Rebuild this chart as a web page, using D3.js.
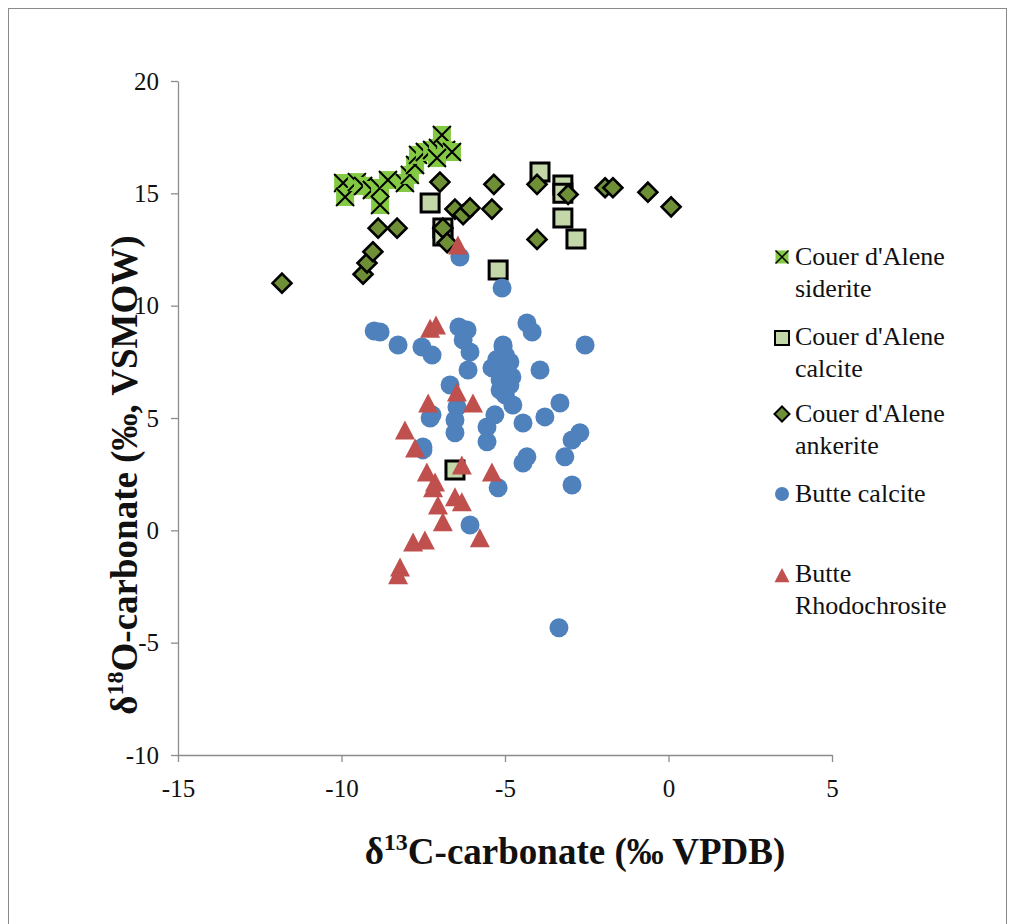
<!DOCTYPE html>
<html>
<head>
<meta charset="utf-8">
<script src="https://cdnjs.cloudflare.com/ajax/libs/d3/7.8.5/d3.min.js"></script>
<style>
  html, body { margin: 0; padding: 0; background: #fff; }
  svg { display: block; }
</style>
</head>
<body>
<script>
// δ13C vs δ18O of carbonates, Coeur d'Alene and Butte districts
const xTicks = [-15, -10, -5, 0, 5];
const yTicks = [-10, -5, 0, 5, 10, 15, 20];

// [δ13C, δ18O]
const cdaSiderite = [
  [-9.95, 15.46], [-9.89, 14.84], [-9.53, 15.5], [-9.34, 15.33], [-9.07, 15.15],
  [-8.82, 15.24], [-8.58, 15.59], [-8.82, 14.48], [-8.06, 15.46], [-7.91, 15.82],
  [-7.75, 16.26], [-7.66, 16.71], [-7.45, 16.84], [-7.23, 16.93], [-7.05, 17.02],
  [-6.93, 17.6], [-6.80, 16.93], [-6.62, 16.84], [-7.08, 16.57]
];
const cdaCalcite = [
  [-3.93, 15.95], [-3.23, 15.37], [-3.23, 15.0], [-3.23, 13.9], [-2.83, 12.97],
  [-7.29, 14.57], [-6.9, 13.46], [-6.9, 13.1], [-5.21, 11.59], [-6.53, 2.69]
];
const cdaAnkerite = [
  [-11.82, 11.0], [-9.34, 11.4], [-9.22, 11.9], [-9.04, 12.4], [-8.88, 13.45],
  [-8.30, 13.45], [-6.99, 15.5], [-6.9, 13.45], [-6.77, 12.8], [-6.53, 14.3],
  [-6.28, 14.05], [-6.07, 14.35], [-5.40, 14.3], [-5.34, 15.4], [-4.02, 15.4],
  [-4.02, 12.95], [-3.07, 14.95], [-1.94, 15.25], [-1.70, 15.25], [-0.63, 15.05],
  [0.08, 14.4]
];
const butteCalcite = [
  [-6.38, 12.17], [-5.09, 10.79], [-9.0, 8.87], [-8.27, 8.25], [-7.54, 8.16],
  [-7.23, 7.8], [-6.41, 9.05], [-6.16, 8.92], [-6.28, 8.47], [-6.07, 7.94],
  [-6.13, 7.14], [-6.68, 6.47], [-5.06, 8.25], [-7.29, 5.0], [-7.51, 3.71],
  [-8.82, 8.83], [-4.33, 9.23], [-4.17, 8.83], [-2.55, 8.25], [-5.06, 8.16],
  [-4.85, 7.49], [-5.40, 7.23], [-5.15, 6.7], [-4.79, 6.83], [-5.15, 6.25],
  [-3.93, 7.14], [-6.47, 5.49], [-7.23, 5.14], [-6.53, 4.91], [-6.53, 4.34],
  [-5.31, 5.14], [-5.55, 4.6], [-5.55, 3.94], [-4.76, 5.58], [-4.45, 4.78],
  [-3.78, 5.05], [-3.32, 5.67], [-2.71, 4.34], [-2.95, 4.02], [-3.17, 3.27],
  [-4.33, 3.27], [-4.45, 3.0], [-2.95, 2.02], [-5.21, 1.89], [-6.07, 0.24],
  [-7.51, 3.58], [-3.35, -4.34], [-4.99, 7.8], [-4.85, 6.47], [-4.99, 6.02],
  [-5.25, 7.6], [-4.95, 7.1]
];
const butteRhodochrosite = [
  [-6.44, 12.7], [-7.29, 9.0], [-7.11, 9.14], [-6.47, 6.16], [-7.35, 5.67],
  [-5.98, 5.67], [-8.06, 4.47], [-7.75, 3.67], [-7.39, 2.6], [-7.14, 2.15],
  [-6.32, 2.91], [-5.40, 2.6], [-7.20, 1.89], [-6.53, 1.49], [-6.32, 1.27],
  [-7.05, 1.13], [-6.9, 0.38], [-5.77, -0.33], [-7.81, -0.52], [-7.45, -0.43],
  [-8.21, -1.63], [-8.27, -1.98]
];

const seriesNames = [
  ["Couer d'Alene", "siderite"],
  ["Couer d'Alene", "calcite"],
  ["Couer d'Alene", "ankerite"],
  ["Butte calcite"],
  ["Butte", "Rhodochrosite"]
];

const W = 1014, H = 924;
const serif = "'Liberation Serif', 'Times New Roman', serif";

const svg = d3.select("body").append("svg")
  .attr("width", W).attr("height", H);

// outer chart frame
svg.append("rect")
  .attr("x", 8.5).attr("y", 8.5).attr("width", 998).attr("height", 930)
  .attr("fill", "#fff").attr("stroke", "#8a8a8a").attr("stroke-width", 1);

const x = d3.scaleLinear().domain([-15, 5]).range([178, 832]);
const y = d3.scaleLinear().domain([-10, 20]).range([755, 81]);

const axisColor = "#8c8c8c";
const plainNum = d => String(d);

const gx = svg.append("g").attr("transform", `translate(0,${y(-10)})`)
  .call(d3.axisBottom(x).tickValues(xTicks).tickFormat(plainNum)
    .tickSize(7).tickSizeOuter(0).tickPadding(17));
const gy = svg.append("g").attr("transform", `translate(${x(-15)},0)`)
  .call(d3.axisLeft(y).tickValues(yTicks).tickFormat(plainNum)
    .tickSize(7).tickSizeOuter(0).tickPadding(12));

[gx, gy].forEach(g => {
  g.select(".domain").attr("stroke", axisColor).attr("stroke-width", 1.3);
  g.selectAll(".tick line").attr("stroke", axisColor).attr("stroke-width", 1.3);
  g.selectAll(".tick text")
    .attr("fill", "#111")
    .style("font-family", serif)
    .style("font-size", "25px");
});

// markers
const squareAt = (s) => d3.symbol().type(d3.symbolSquare).size(s * s)();
const diamondAt = (d) => {
  const h = d / 2;
  return `M0,${-h}L${h},0L0,${h}L${-h},0Z`;
};
const triAt = (w) => {
  const h = w * 0.95;
  return `M0,${-h / 2}L${w / 2},${h / 2}L${-w / 2},${h / 2}Z`;
};

function drawSiderite(g, size, sw) {
  const h = size / 2;
  g.append("rect").attr("x", -h).attr("y", -h).attr("width", size).attr("height", size)
    .attr("fill", "#84c944");
  g.append("path").attr("d", `M${-h},${-h}L${h},${h}M${h},${-h}L${-h},${h}`)
    .attr("stroke", "#000").attr("stroke-width", sw).attr("fill", "none");
}
function drawCalcite(g, size, sw) {
  g.append("path").attr("d", squareAt(size))
    .attr("fill", "#c4d7a8").attr("stroke", "#000").attr("stroke-width", sw);
}
function drawAnkerite(g, size, sw) {
  g.append("path").attr("d", diamondAt(size))
    .attr("fill", "#6f8f37").attr("stroke", "#000").attr("stroke-width", sw)
    .attr("stroke-linejoin", "miter");
}
function drawCircle(g, size) {
  g.append("circle").attr("r", size / 2).attr("fill", "#4f81bd");
}
function drawTriangle(g, size) {
  g.append("path").attr("d", triAt(size)).attr("fill", "#c0504d");
}

const plot = svg.append("g");
function plotSeries(data, fn, size, sw) {
  plot.append("g").selectAll("g").data(data).join("g")
    .attr("transform", d => `translate(${x(d[0])},${y(d[1])})`)
    .each(function () { fn(d3.select(this), size, sw); });
}
plotSeries(cdaSiderite, drawSiderite, 18, 2);
plotSeries(cdaCalcite, drawCalcite, 18, 3);
plotSeries(cdaAnkerite, drawAnkerite, 19, 2.6);
plotSeries(butteCalcite, drawCircle, 19);
plotSeries(butteRhodochrosite, drawTriangle, 20);

// axis titles
const xTitle = svg.append("text")
  .attr("x", 575).attr("y", 864)
  .attr("text-anchor", "middle")
  .style("font-family", serif).style("font-size", "37px").style("font-weight", "bold")
  .attr("fill", "#111");
xTitle.append("tspan").text("δ");
xTitle.append("tspan").attr("dy", -14).style("font-size", "24px").text("13");
xTitle.append("tspan").attr("dy", 14).text("C-carbonate (‰ VPDB)");

const yTitle = svg.append("text")
  .attr("transform", "translate(137,475) rotate(-90)")
  .attr("text-anchor", "middle")
  .style("font-family", serif).style("font-size", "37px").style("font-weight", "bold")
  .attr("fill", "#111");
yTitle.append("tspan").text("δ");
yTitle.append("tspan").attr("dy", -14).style("font-size", "24px").text("18");
yTitle.append("tspan").attr("dy", 14).text("O-carbonate (‰, VSMOW)");

// legend
const legendFns = [drawSiderite, drawCalcite, drawAnkerite, drawCircle, drawTriangle];
const legendSizes = [[13, 1.5], [14, 2], [15, 2], [14], [15]];
const legendMarkerY = [257, 338, 414, 494, 575];
const legendTextY = [265, 345, 422, 502, 582];
const legend = svg.append("g");
seriesNames.forEach((lines, i) => {
  const m = legend.append("g").attr("transform", `translate(782,${legendMarkerY[i]})`);
  legendFns[i](m, legendSizes[i][0], legendSizes[i][1]);
  const t = legend.append("text")
    .attr("x", 795).attr("y", legendTextY[i])
    .style("font-family", serif).style("font-size", "26px").attr("fill", "#111");
  lines.forEach((ln, j) => {
    t.append("tspan").attr("x", 795).attr("dy", j === 0 ? 0 : 32).text(ln);
  });
});
</script>
</body>
</html>
